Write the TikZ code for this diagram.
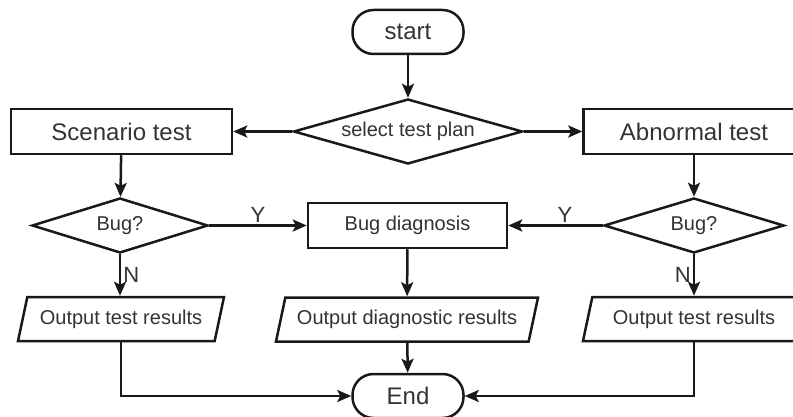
\documentclass[tikz,border=0pt]{standalone}
\usepackage{fontspec}
\setmainfont{Liberation Sans}
\usetikzlibrary{shapes.geometric,arrows.meta}
\begin{document}
\begin{tikzpicture}[x=1pt,y=-1pt,
  base/.style={draw=black!90, line width=2.5pt, text=black!80, inner sep=0pt},
  bigfont/.style={font=\fontsize{24}{28}\selectfont},
  smallfont/.style={font=\fontsize{20}{24}\selectfont},
  term/.style={base, rectangle, rounded corners=21pt, minimum width=111pt, minimum height=44pt, bigfont},
  proc/.style={base, rectangle, minimum height=45pt},
  dec/.style={base, diamond, smallfont},
  io/.style={base, trapezium, trapezium left angle=63.4, trapezium right angle=116.6,
    trapezium stretches body=true, minimum height=44pt, smallfont},
  arr/.style={line width=2.5pt, draw=black!90, -{Stealth[length=14pt,width=12pt,inset=3pt]}},
  lab/.style={font=\fontsize{22}{26}\selectfont, text=black!80, inner sep=2pt}
]
\useasboundingbox (0,0) rectangle (793,417);
\clip (0,0) rectangle (793,417);
\fill[white] (0,0) rectangle (793,417);

\node[term] (start) at (408,32) {start};
\node[dec, shape aspect=3.5, minimum width=229pt, minimum height=65pt] (sel) at (408,131.5) {select test plan};
\node[proc, bigfont, minimum width=221pt] (scen) at (121.5,131.5) {Scenario test};
\node[proc, bigfont, minimum width=221pt] (abn) at (694,131.5) {Abnormal test};
\node[dec, shape aspect=3.2, minimum width=176pt, minimum height=55pt] (bug1) at (120,225.5) {Bug?};
\node[proc, smallfont, minimum width=199pt] (diag) at (407.5,225.5) {Bug diagnosis};
\node[dec, shape aspect=3.2, minimum width=180pt, minimum height=55pt] (bug2) at (694,225.5) {Bug?};
\node[io, minimum width=206pt] (out1) at (121,319) {Output test results};
\node[io, minimum width=262pt] (out2) at (407,319.5) {Output diagnostic results};
\node[io, minimum width=222pt] (out3) at (694,319) {Output test results};
\node[term] (end) at (408,396) {End};

\draw[arr] (start) -- (sel);
\draw[arr] (sel.west) -- (scen.east);
\draw[arr] (sel.east) -- (abn.west);
\draw[arr] (scen) -- (bug1);
\draw[arr] (abn) -- (bug2);
\draw[arr] (bug1.east) -- node[lab, above] {Y} (diag.west);
\draw[arr] (bug2.west) -- node[lab, above, pos=0.4] {Y} (diag.east);
\draw[arr] (bug1.south) -- node[lab, right] {N} (out1.north -| bug1.south);
\draw[arr] (bug2.south) -- node[lab, left] {N} (out3.north -| bug2.south);
\draw[arr] (diag) -- (out2);
\draw[arr] (out2) -- (end);
\draw[arr] (out1.south) |- (end.west);
\draw[arr] (out3.south) |- (end.east);
\end{tikzpicture}
\end{document}
